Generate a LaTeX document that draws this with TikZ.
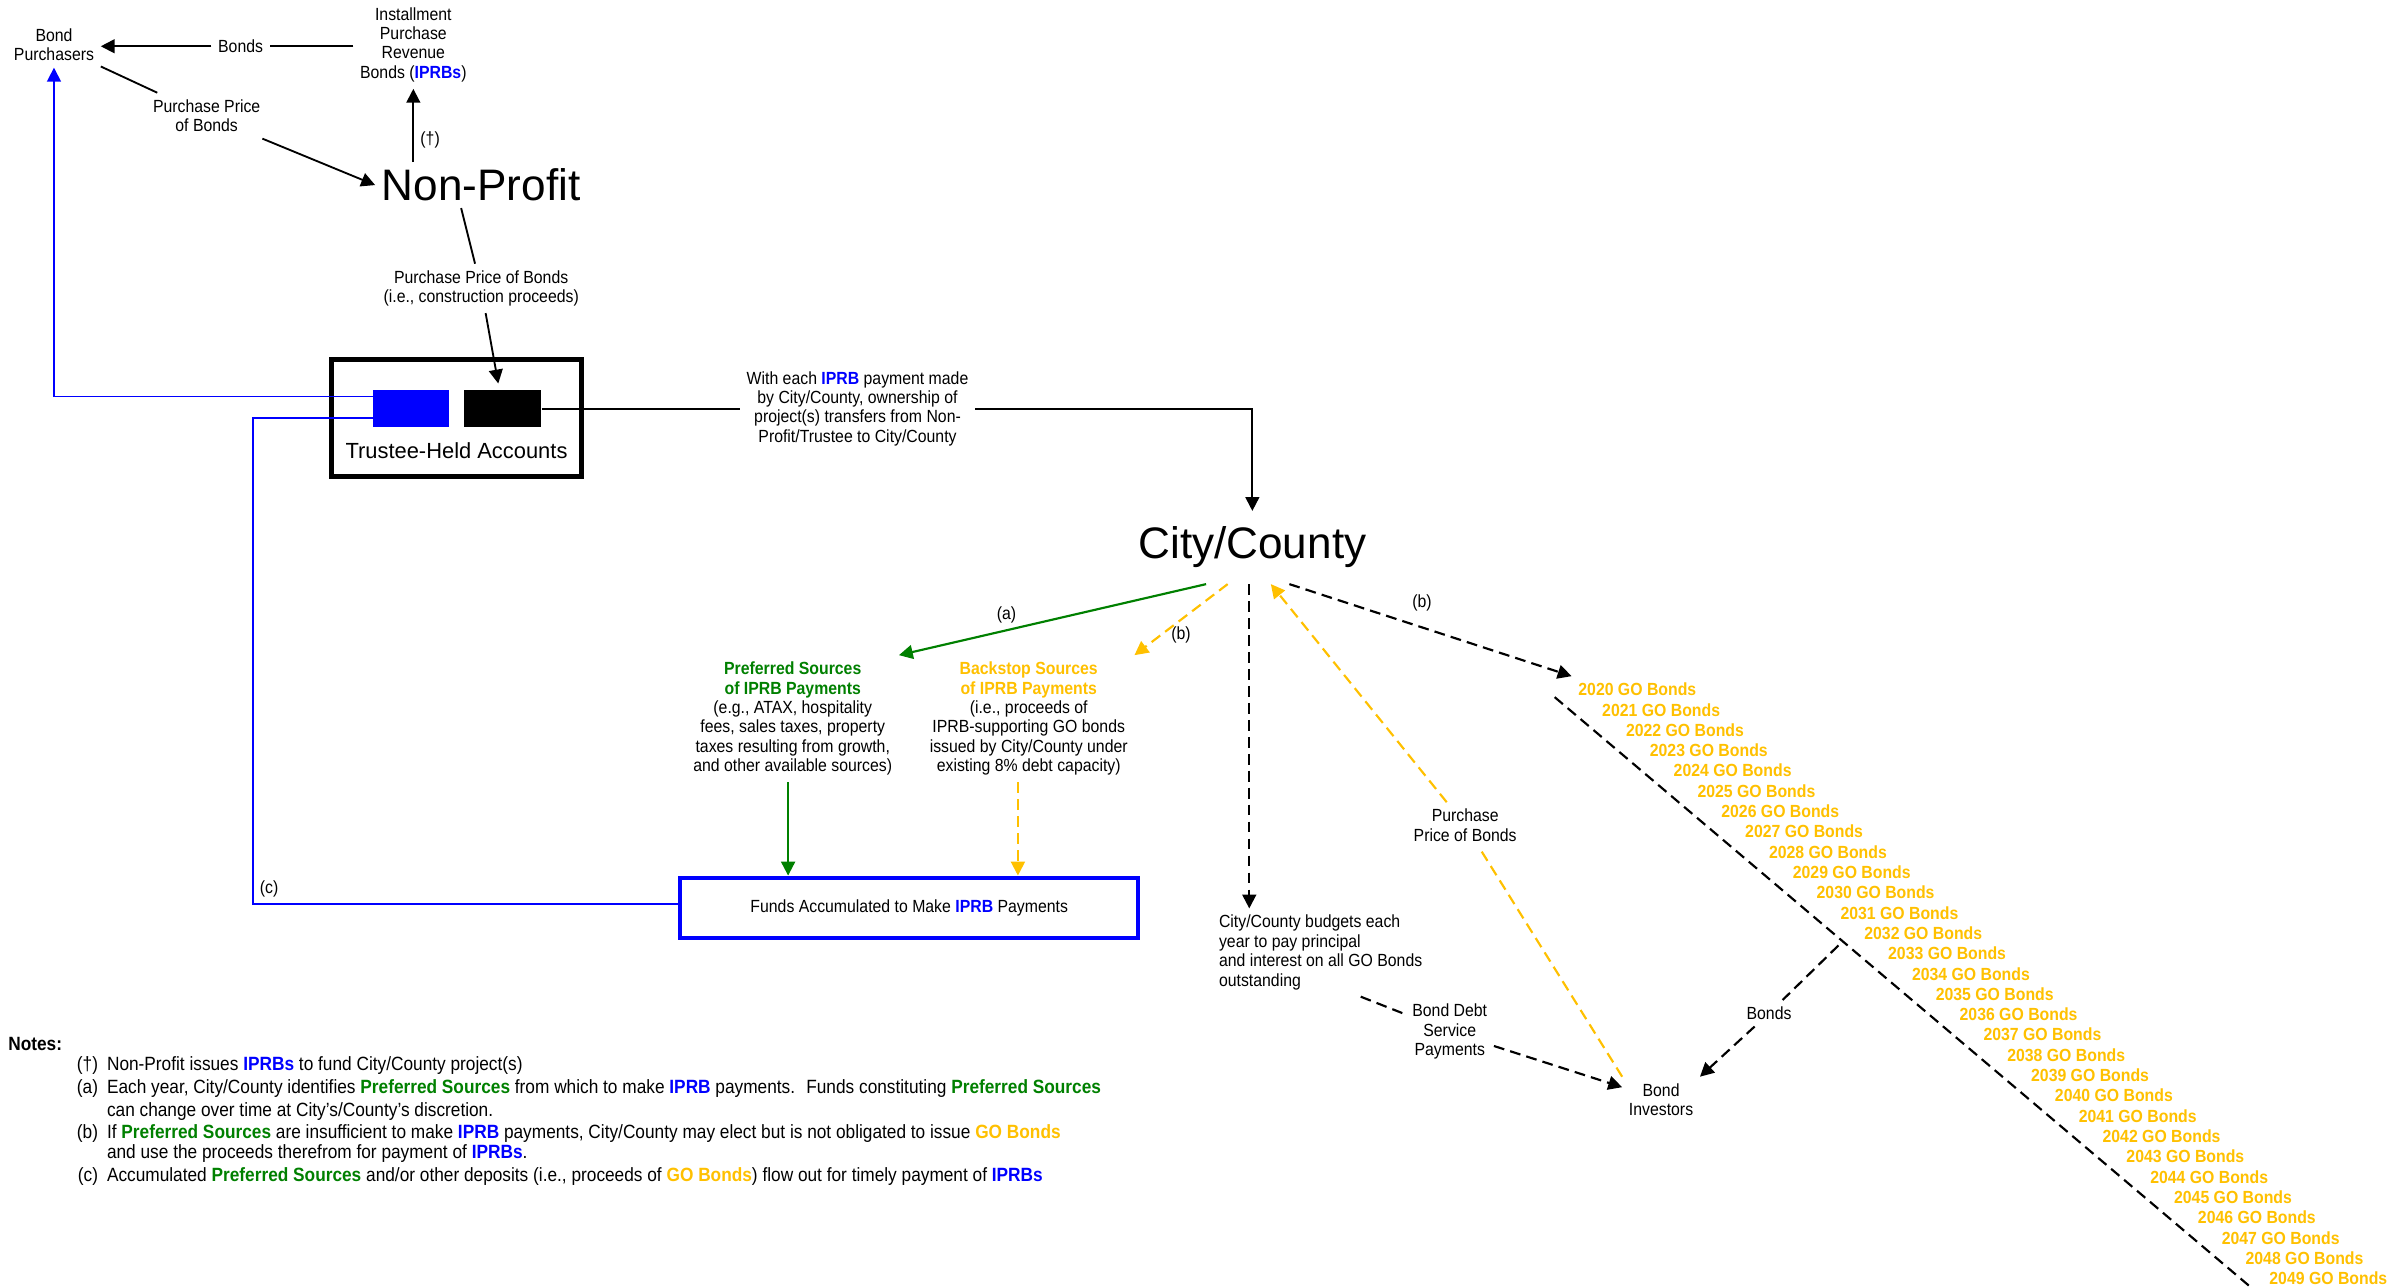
\documentclass[tikz,border=0pt]{standalone}
\usepackage{fontspec}
\setmainfont{Liberation Sans}[FakeStretch=0.9]
\newfontfamily\plainsans{Liberation Sans}
\usepackage{xcolor}
\usetikzlibrary{shapes,arrows,arrows.meta,positioning}
\definecolor{iprbblue}{RGB}{0,0,255}
\definecolor{prefgreen}{RGB}{0,128,0}
\definecolor{gogold}{RGB}{255,192,0}
\newcommand{\iprbtext}[1]{\textcolor{iprbblue}{\textbf{#1}}}
\newcommand{\preftext}[1]{\textcolor{prefgreen}{\textbf{#1}}}
\newcommand{\gotext}[1]{\textcolor{gogold}{\textbf{#1}}}

\begin{document}
\begin{tikzpicture}[x=0.5pt,y=-0.5pt,
	>={Triangle[length=4.5pt,width=4.5pt]},
	every node/.style={font=\fontsize{5.7}{6.3}\selectfont,align=center,inner sep=2pt},
	big/.style={font=\plainsans\fontsize{14.3}{16}\selectfont},
	note/.style={anchor=west,font=\fontsize{6.22}{6.8}\selectfont},
	ln/.style={line width=0.6pt},
	dsh/.style={line width=0.7pt,dash pattern=on 3.5pt off 2pt},
	gold/.style={dsh,draw=gogold},
	grn/.style={line width=0.7pt,draw=prefgreen},
	blu/.style={line width=0.5pt,draw=iprbblue}]
		\useasboundingbox (0,0) rectangle (1560,835);
		% arriba
		\node (bp) at (35,29) {Bond\\Purchasers};
		\node (iprb) at (268,29) {Installment\\Purchase\\Revenue\\Bonds (\iprbtext{IPRBs})};
		\node (bondslbl) at (156,30) {Bonds};
		\node[big] (np) at (312,120) {Non-Profit};
		\node (pp1) at (134,75) {Purchase Price\\of Bonds};
		\node (pp2) at (312,187) {Purchase Price of Bonds\\(i.e., construction proceeds)};
		\draw[ln] (iprb.west |- bondslbl) -- (bondslbl);
		\draw[ln,->] (bondslbl) -- (bp.east |- bondslbl);
		\draw[ln,->] (np.north -| iprb.south) -- (iprb.south) node[pos=0.3,right] {(†)};
		\draw[ln] (bp) -- (pp1);
		\draw[ln,->] (pp1) -- (np.west);
		\draw[ln] ([xshift=-6.5pt]np.south) -- (pp2);
		% cuentas
		\node[draw,line width=1.6pt,minimum width=81pt,minimum height=38pt] (trustee) at (296,271) {};
		\node[fill=iprbblue,minimum width=24.5pt,minimum height=12pt] (bluacct) at (266.5,265) {};
		\node[fill=black,minimum width=25pt,minimum height=12pt] (blkacct) at (326,265) {};
		\node[font=\plainsans\fontsize{7.1}{8}\selectfont] (trusteelbl) at (296,292) {Trustee-Held Accounts};
		\draw[ln,->,shorten >=2pt] (pp2) -- (blkacct);
		\node (owner) at (556,265) {With each \iprbtext{IPRB} payment made\\by City/County, ownership of\\project(s) transfers from Non-\\Profit/Trustee to City/County};
		\node[big,inner sep=5pt] (city) at (812,355) {City/County};
		\draw[ln] (blkacct.east) -- (owner.west |- blkacct.east);
		\draw[ln,->] (owner.east |- blkacct.east) -| (city.north);
		% fuentes de pago
		\node (pref) at (514,466) {\preftext{Preferred Sources}\\\preftext{of IPRB Payments}\\(e.g., ATAX, hospitality\\fees, sales taxes, property\\taxes resulting from growth,\\and other available sources)};
		\node (back) at (667,466) {\gotext{Backstop Sources}\\\gotext{of IPRB Payments}\\(i.e., proceeds of\\IPRB-supporting GO bonds\\issued by City/County under\\existing 8\% debt capacity)};
		\node[draw=iprbblue,line width=1.3pt,minimum width=148.5pt,minimum height=19.5pt] (funds) at (589.5,588.5) {Funds Accumulated to Make \iprbtext{IPRB} Payments};
		\draw[grn,->] ([xshift=-15pt]city.south) -- (pref.north east) node[pos=0.65,above] {(a)};
		\draw[gold,->] ([xshift=-8pt]city.south) -- (back.north east) node[pos=0.5,below] {(b)};
		\draw[grn,->] ([xshift=-1.5pt]pref.south) -- ([xshift=-1.5pt]pref.south |- funds.north);
		\draw[gold,->] ([xshift=-3.5pt]back.south) -- ([xshift=-3.5pt]back.south |- funds.north);
		% lineas azules
		\coordinate (cturn) at (164,586);
		\draw[blu,->] ([yshift=4pt]bluacct.west) -| (bp.south);
		\draw[blu] ([yshift=-3pt]bluacct.west) -| (cturn) node[above right] {(c)} -- (cturn -| funds.west);
		% bonos GO
		\node[align=left,anchor=north west] (budget) at (786,589) {City/County budgets each\\year to pay principal\\and interest on all GO Bonds\\outstanding};
		\node (debt) at (940,669) {Bond Debt\\Service\\Payments};
		\node (inv) at (1077,713) {Bond\\Investors};
		\node (ppb) at (950,535) {Purchase\\Price of Bonds};
		\node (bondslbl2) at (1147,657) {Bonds};
		\foreach \yr [count=\i from 0] in {2020,...,2049}
		\node[anchor=west,text=gogold,font=\fontsize{5.7}{6.3}\selectfont\bfseries] (go\yr) at (1019+15.45*\i,447+13.17*\i) {\yr\ GO Bonds};
		\draw[dsh,->] ([xshift=-1pt]city.south) -- ([xshift=-1pt]city.south |- budget.north);
		\draw[dsh] ([xshift=13pt]budget.south) -- (debt);
		\draw[dsh,->] (debt) -- (inv);
		\draw[gold] (inv.north west) -- (ppb);
		\draw[gold,->] (ppb) -- ([xshift=6pt]city.south);
		\draw[dsh,->] ([xshift=12pt]city.south) -- (go2020.north west) node[pos=0.47,above=3pt] {(b)};
		\coordinate (diagtop) at (1008,452);
		\coordinate (diagbot) at (1461,836);
		\draw[dsh] (diagtop) -- (diagbot);
		\coordinate (branch) at (1192,613);
		\draw[dsh] (branch) -- (bondslbl2);
		\draw[dsh,->] (bondslbl2) -- (inv.north east);
		% notas
		\node[note,font=\fontsize{6.22}{6.8}\selectfont\bfseries] (notes) at (1,677) {Notes:};
		\node[note,anchor=east] (mk1) at (68,691) {(†)};
		\node[note] (note1) at (65,691) {Non-Profit issues \iprbtext{IPRBs} to fund City/County project(s)};
		\node[note,anchor=east] (mk2) at (68,706) {(a)};
		\node[note] (note2) at (65,706) {Each year, City/County identifies \preftext{Preferred Sources} from which to make \iprbtext{IPRB} payments.~ Funds constituting \preftext{Preferred Sources}};
		\node[note] (note2b) at (65,721) {can change over time at City's/County's discretion.};
		\node[note,anchor=east] (mk3) at (68,735) {(b)};
		\node[note] (note3) at (65,735) {If \preftext{Preferred Sources} are insufficient to make \iprbtext{IPRB} payments, City/County may elect but is not obligated to issue \gotext{GO Bonds}};
		\node[note] (note3b) at (65,748) {and use the proceeds therefrom for payment of \iprbtext{IPRBs}.};
		\node[note,anchor=east] (mk4) at (68,763) {(c)};
		\node[note] (note4) at (65,763) {Accumulated \preftext{Preferred Sources} and/or other deposits (i.e., proceeds of \gotext{GO Bonds}) flow out for timely payment of \iprbtext{IPRBs}};
		\end{tikzpicture}
\end{document}
